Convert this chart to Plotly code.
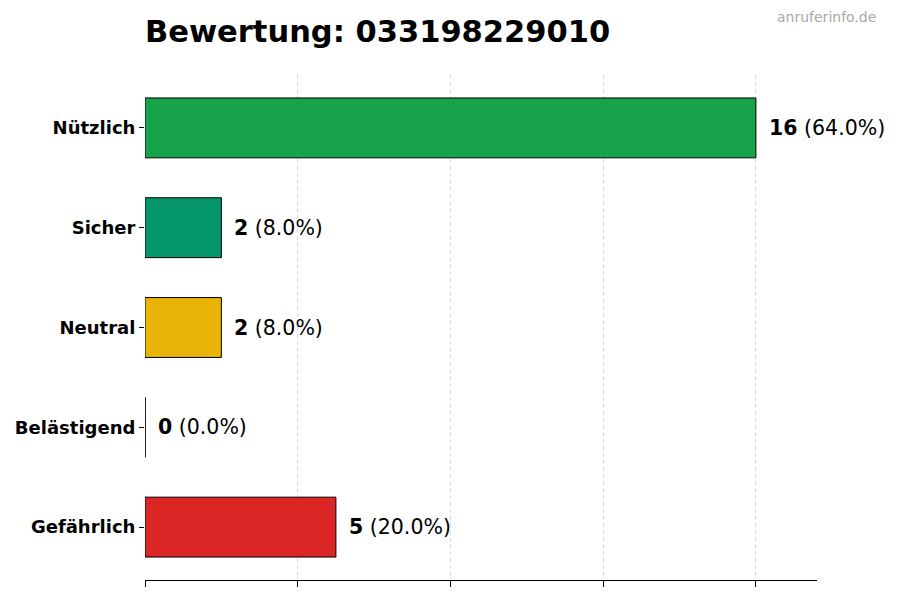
import plotly.graph_objects as go

categories = ["Nützlich", "Sicher", "Neutral", "Belästigend", "Gefährlich"]
counts = [16, 2, 2, 0, 5]
colors = ["#16a34a", "#059669", "#eab308", "#7f1d1d", "#dc2626"]
title_text = "Bewertung: 033198229010"
watermark = "anruferinfo.de"
x_ticks = [0, 4, 8, 12, 16]

total = sum(counts)
pcts = [c / total * 100 for c in counts]
positions = list(range(len(categories)))

fig = go.Figure()
fig.add_trace(go.Bar(
    x=counts, y=positions, orientation="h", width=0.6,
    marker=dict(color=colors, line=dict(color="black", width=1)),
    hoverinfo="skip", showlegend=False,
))

for pos, c, p in zip(positions, counts, pcts):
    fig.add_annotation(
        x=c, y=pos, xref="x", yref="y", xanchor="left", yanchor="middle",
        xshift=11, showarrow=False,
        text=f"<b>{c}</b> ({p:.1f}%)",
        font=dict(family="DejaVu Sans", size=20.5, color="black"),
    )
    if c == 0:
        fig.add_shape(type="line", xref="x", yref="y", x0=c, x1=c,
                      y0=pos - 0.3, y1=pos + 0.3,
                      line=dict(color="black", width=1))

fig.update_layout(
    width=900, height=600,
    margin=dict(l=145, r=83, t=75, b=20),
    plot_bgcolor="white", paper_bgcolor="white",
    title=dict(text=f"<b>{title_text}</b>", x=145 / 900, xanchor="left",
               y=1 - 31 / 600, yanchor="middle",
               font=dict(family="DejaVu Sans", size=30.5, color="black")),
    font=dict(family="DejaVu Sans", color="black"),
)
fig.add_annotation(text=watermark, xref="paper", yref="paper", x=1 + 61 / 672,
                   y=1 + 58 / 505, xanchor="right", yanchor="middle", showarrow=False,
                   font=dict(family="DejaVu Sans", size=14, color="#a8a8a8"))

fig.update_xaxes(range=[0, 17.6], tickvals=x_ticks, showticklabels=False,
                 ticks="outside", ticklen=6, tickcolor="black",
                 showline=True, linecolor="black", linewidth=1,
                 showgrid=True, gridcolor="#dadada", griddash="4px,3px", gridwidth=1,
                 zeroline=False, layer="above traces")
fig.update_yaxes(range=[4.53, -0.53], ticks="outside", ticklen=5, tickcolor="black",
                 showline=False, showgrid=False, zeroline=False,
                 tickvals=positions, ticktext=[f"<b>{c}</b>" for c in categories],
                 tickfont=dict(family="DejaVu Sans", size=18, color="black"),
                 ticklabelstandoff=0, automargin=False)

fig.write_html("out.html", config={"displayModeBar": False},
               post_script="document.body.style.margin='0';")
